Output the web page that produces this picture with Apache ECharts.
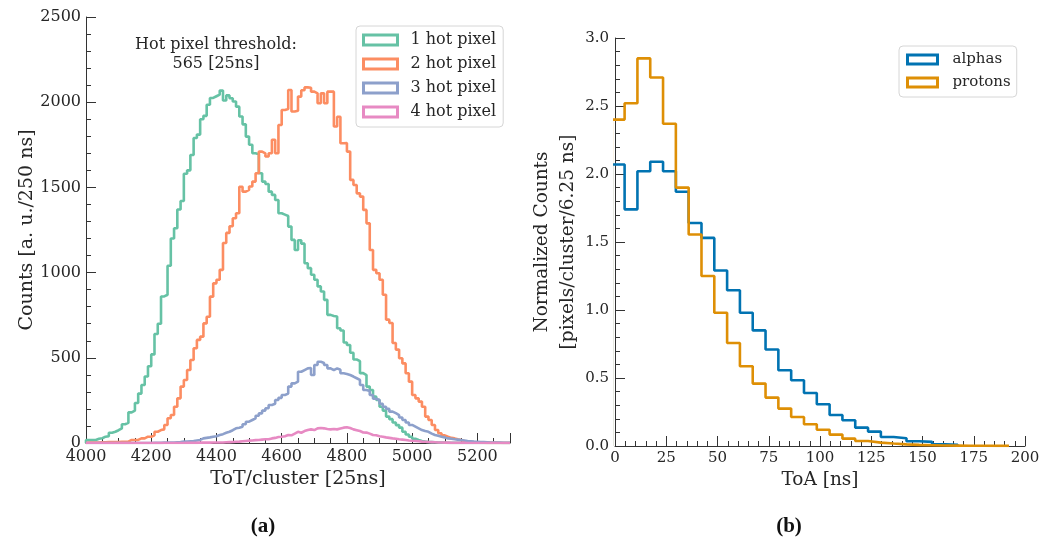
<!DOCTYPE html>
<html>
<head>
<meta charset="utf-8">
<script src="https://cdn.jsdelivr.net/npm/echarts@6/dist/echarts.min.js"></script>
<style>
  html, body { margin: 0; padding: 0; background: #ffffff; }
  #chart { width: 1064px; height: 542px; }
</style>
</head>
<body>
<div id="chart"></div>
<script>
// ---------- Panel (a): ToT per cluster, bins of 10 x 25ns starting at 4000 ----------
const totBinStart = 4000;
const totBinWidth = 10;
const totTicks = [4000, 4200, 4400, 4600, 4800, 5000, 5200];
const seriesNamesA = ['1 hot pixel', '2 hot pixel', '3 hot pixel', '4 hot pixel'];

const hot1 = [
  18, 18, 18, 25, 28, 37, 40, 60, 66, 75,
  86, 110, 118, 180, 190, 235, 290, 340, 390, 450,
  520, 640, 700, 860, 870, 1040, 1200, 1260, 1370, 1420,
  1580, 1600, 1690, 1790, 1810, 1900, 1920, 1985, 2025, 2035,
  2045, 2068, 2010, 2040, 2023, 2004, 1974, 1916, 1870, 1798,
  1750, 1700, 1695, 1583, 1534, 1520, 1475, 1456, 1426, 1348,
  1340, 1332, 1270, 1192, 1133, 1190, 1170, 1055, 1026, 987,
  958, 919, 889, 840, 752, 745, 742, 673, 660, 590,
  575, 530, 490, 480, 410, 399, 331, 311, 272, 252,
  213, 190, 155, 140, 120, 105, 90, 66, 50, 37,
  25, 18, 12, 8, 6, 5, 4, 3, 2, 2,
  1, 1, 1, 1, 1, 0, 0, 0, 0, 0,
  0, 0, 0, 0, 0, 0, 0, 0, 0, 0
];
const hot2 = [
  3, 3, 3, 3, 4, 4, 5, 5, 6, 6,
  7, 7, 8, 18, 18, 18, 27, 27, 37, 37,
  45, 66, 76, 80, 106, 145, 164, 213, 262, 331,
  370, 428, 487, 556, 605, 624, 702, 741, 859, 937,
  958, 1016, 1174, 1233, 1272, 1319, 1348, 1504, 1475, 1485,
  1505, 1534, 1583, 1710, 1700, 1681, 1700, 1780, 1700, 1866,
  1954, 1960, 2072, 1945, 1950, 2033, 2070, 2087, 2085, 2062,
  2052, 1994, 2052, 1994, 2062, 2062, 1857, 1915, 1759, 1760,
  1710, 1544, 1514, 1465, 1446, 1368, 1289, 1133, 1016, 996,
  958, 870, 724, 704, 587, 548, 497, 467, 409, 360,
  282, 262, 243, 213, 155, 135, 106, 76, 57, 45,
  37, 30, 27, 22, 18, 12, 8, 6, 4, 3,
  2, 2, 1, 1, 1, 1, 0, 0, 0, 0
];
const hot3 = [
  0, 0, 0, 0, 0, 0, 0, 0, 0, 0,
  0, 0, 0, 0, 0, 0, 0, 0, 0, 0,
  1, 1, 1, 2, 2, 2, 3, 4, 5, 8,
  8, 10, 12, 15, 18, 27, 30, 33, 37, 40,
  47, 52, 60, 66, 75, 86, 90, 96, 110, 125,
  135, 145, 160, 174, 190, 204, 223, 230, 252, 265,
  282, 290, 331, 350, 360, 418, 428, 438, 440, 399,
  458, 477, 470, 458, 438, 428, 438, 430, 409, 405,
  399, 390, 380, 370, 340, 311, 305, 282, 260, 252,
  230, 213, 200, 184, 175, 164, 150, 135, 120, 106,
  96, 86, 76, 70, 66, 55, 47, 42, 37, 33,
  27, 25, 22, 20, 18, 15, 12, 10, 8, 7,
  6, 5, 4, 3, 3, 2, 2, 1, 1, 1
];
const hot4 = [
  0, 0, 0, 0, 0, 0, 0, 0, 0, 0,
  0, 0, 0, 0, 0, 0, 0, 0, 0, 0,
  0, 0, 0, 0, 0, 0, 0, 0, 0, 0,
  1, 1, 1, 1, 2, 2, 2, 2, 3, 3,
  3, 3, 4, 5, 6, 7, 8, 10, 12, 14,
  15, 17, 18, 20, 22, 22, 27, 30, 35, 37,
  40, 47, 45, 55, 66, 60, 70, 76, 80, 76,
  86, 88, 86, 82, 80, 82, 80, 85, 90, 92,
  88, 80, 75, 70, 62, 61, 55, 47, 45, 40,
  37, 33, 30, 27, 25, 22, 20, 18, 15, 13,
  12, 10, 8, 7, 6, 5, 4, 3, 3, 2,
  2, 1, 1, 1, 1, 1, 0, 0, 0, 0,
  0, 0, 0, 0, 0, 0, 0, 0, 0, 0
];

// ---------- Panel (b): ToA, bins of 6.25 ns ----------
const toaBinStart = -1.5625;
const toaBinWidth = 6.25;
const seriesNamesB = ['alphas', 'protons'];
const alphas = [
  2.07, 1.74, 2.02, 2.09, 2.02, 1.87, 1.64, 1.53, 1.29, 1.145,
  0.98, 0.85, 0.71, 0.557, 0.483, 0.39, 0.307, 0.228, 0.189, 0.135,
  0.106, 0.066, 0.057, 0.035, 0.03, 0.012, 0.008
];
const protons = [
  2.40, 2.52, 2.85, 2.71, 2.37, 1.90, 1.555, 1.25, 0.98, 0.757,
  0.586, 0.459, 0.356, 0.275, 0.213, 0.16, 0.12, 0.084, 0.054, 0.037,
  0.025, 0.018, 0.012, 0.008, 0.006, 0.004, 0.003, 0.002, 0.002, 0.001,
  0.001
];

const colorsA = ['#66c2a5', '#fc8d62', '#8da0cb', '#e78ac3'];
const colorsB = ['#0173b2', '#de8f05'];
const FONT = 'DejaVu Serif';
const TXT = '#262626';
const AX = '#333';

function stepPoints(start, width, vals) {
  const pts = [[start, 0]];
  for (let i = 0; i < vals.length; i++) pts.push([start + i * width, vals[i]]);
  const endX = start + vals.length * width;
  pts.push([endX, vals[vals.length - 1]]);
  pts.push([endX, 0]);
  return pts;
}

function histSeries(name, data, color, xi, yi) {
  return {
    name: name, type: 'line', step: 'end', xAxisIndex: xi, yAxisIndex: yi,
    data: data, showSymbol: false, symbol: 'none', clip: true, silent: true,
    lineStyle: { color: color, width: 2.6 }, itemStyle: { color: color },
    animation: false
  };
}

// Inward y ticks: thin strip grids at the left edge of each panel whose split lines act as ticks
const tickStrips = [
  { left: 86, top: 17, height: 426, len: 10, max: 2500, step: 500 },
  { left: 86, top: 17, height: 426, len: 5, max: 2500, step: 100 },
  { left: 615, top: 38, height: 408, len: 10, max: 3, step: 0.5 },
  { left: 615, top: 38, height: 408, len: 5, max: 3, step: 0.1 }
];

const chart = echarts.init(document.getElementById('chart'), null, { renderer: 'canvas' });
const labelStyle = (size) => ({ fontFamily: FONT, fontSize: size, color: TXT });
const tk = () => ({ color: AX, width: 1 });

const grids = [
  { left: 86, top: 17, width: 424, height: 426 },
  { left: 615, top: 38, width: 410, height: 408 }
];
const xAxes = [
  {
    gridIndex: 0, type: 'value', min: 4000, max: 5300, interval: 200,
    axisLine: { show: true, lineStyle: { color: AX, width: 1 } },
    axisTick: { show: true, inside: true, length: 10, lineStyle: tk() },
    axisLabel: Object.assign({ margin: 6, formatter: (v) => (totTicks.indexOf(v) >= 0 ? String(v) : '') }, labelStyle(16)),
    splitLine: { show: false },
    name: 'ToT/cluster [25ns]', nameLocation: 'middle', nameGap: 25,
    nameTextStyle: labelStyle(19)
  },
  {
    gridIndex: 0, type: 'value', min: 4000, max: 5300, interval: 50, position: 'bottom',
    axisLine: { show: false },
    axisTick: { show: true, inside: true, length: 5, lineStyle: tk() },
    axisLabel: { show: false }, splitLine: { show: false }
  },
  {
    gridIndex: 1, type: 'value', min: 0, max: 200, interval: 25,
    axisLine: { show: true, lineStyle: { color: AX, width: 1 } },
    axisTick: { show: true, inside: true, length: 10, lineStyle: tk() },
    minorTick: { show: true, splitNumber: 5, length: 5, lineStyle: tk() },
    axisLabel: Object.assign({ margin: 5 }, labelStyle(15)),
    splitLine: { show: false }, minorSplitLine: { show: false },
    name: 'ToA [ns]', nameLocation: 'middle', nameGap: 23,
    nameTextStyle: labelStyle(18.5)
  }
];
const yAxes = [
  {
    gridIndex: 0, type: 'value', min: 0, max: 2500, interval: 500, position: 'left',
    axisLine: { show: true, lineStyle: { color: AX, width: 1 } },
    axisTick: { show: false },
    axisLabel: Object.assign({ margin: 5, formatter: (v) => String(v) }, labelStyle(16)),
    splitLine: { show: false },
    name: 'Counts [a. u./250 ns]', nameLocation: 'middle', nameGap: 48,
    nameTextStyle: labelStyle(19)
  },
  {
    gridIndex: 1, type: 'value', min: 0, max: 3, interval: 0.5, position: 'left',
    axisLine: { show: true, lineStyle: { color: AX, width: 1 } },
    axisTick: { show: false },
    axisLabel: Object.assign({ margin: 6, formatter: (v) => v.toFixed(1) }, labelStyle(15)),
    splitLine: { show: false },
    name: 'Normalized Counts\n[pixels/cluster/6.25 ns]', nameLocation: 'middle', nameGap: 27,
    nameTextStyle: Object.assign({ lineHeight: 26 }, labelStyle(18.5))
  }
];
tickStrips.forEach((s) => {
  const gi = grids.length;
  grids.push({ left: s.left, top: s.top, width: s.len, height: s.height });
  xAxes.push({ gridIndex: gi, type: 'value', min: 0, max: 1, show: false });
  yAxes.push({
    gridIndex: gi, type: 'value', min: 0, max: s.max, interval: s.step,
    axisLine: { show: false }, axisTick: { show: false }, axisLabel: { show: false },
    splitLine: { show: true, lineStyle: { color: AX, width: 1, type: 'solid' } }
  });
});

const option = {
  backgroundColor: '#ffffff',
  animation: false,
  grid: grids,
  xAxis: xAxes,
  yAxis: yAxes,
  legend: [
    {
      left: 356, top: 26, orient: 'vertical', selectedMode: false,
      padding: [6, 7, 7, 6], itemGap: 8, itemWidth: 34, itemHeight: 10,
      backgroundColor: 'rgba(255,255,255,0.85)', borderColor: '#d6d6d6', borderWidth: 1, borderRadius: 4,
      textStyle: { fontFamily: FONT, fontSize: 16, color: TXT, lineHeight: 16, padding: [0, 0, 0, 8] },
      data: seriesNamesA.map((n, i) => ({
        name: n, icon: 'rect',
        itemStyle: { color: 'rgba(0,0,0,0)', borderColor: colorsA[i], borderWidth: 3 }
      }))
    },
    {
      left: 899, top: 46, orient: 'vertical', selectedMode: false,
      padding: [6, 6, 7, 7], itemGap: 8, itemWidth: 30, itemHeight: 9,
      backgroundColor: 'rgba(255,255,255,0.85)', borderColor: '#d6d6d6', borderWidth: 1, borderRadius: 4,
      textStyle: { fontFamily: FONT, fontSize: 15, color: TXT, lineHeight: 15, padding: [0, 0, 0, 10] },
      data: seriesNamesB.map((n, i) => ({
        name: n, icon: 'rect',
        itemStyle: { color: 'rgba(0,0,0,0)', borderColor: colorsB[i], borderWidth: 3 }
      }))
    }
  ],
  graphic: [
    { type: 'text', x: 216, y: 45, style: { text: 'Hot pixel threshold:', align: 'center', verticalAlign: 'middle', font: '16px "DejaVu Serif"', fill: TXT } },
    { type: 'text', x: 216, y: 64, style: { text: '565 [25ns]', align: 'center', verticalAlign: 'middle', font: '16px "DejaVu Serif"', fill: TXT } },
    { type: 'text', x: 263, y: 527, style: { text: '(a)', align: 'center', verticalAlign: 'middle', font: 'bold 21px "Liberation Serif"', fill: '#111' } },
    { type: 'text', x: 789, y: 527, style: { text: '(b)', align: 'center', verticalAlign: 'middle', font: 'bold 21px "Liberation Serif"', fill: '#111' } }
  ],
  series: [
    histSeries(seriesNamesA[0], stepPoints(totBinStart, totBinWidth, hot1), colorsA[0], 0, 0),
    histSeries(seriesNamesA[1], stepPoints(totBinStart, totBinWidth, hot2), colorsA[1], 0, 0),
    histSeries(seriesNamesA[2], stepPoints(totBinStart, totBinWidth, hot3), colorsA[2], 0, 0),
    histSeries(seriesNamesA[3], stepPoints(totBinStart, totBinWidth, hot4), colorsA[3], 0, 0),
    histSeries(seriesNamesB[0], stepPoints(toaBinStart, toaBinWidth, alphas), colorsB[0], 2, 1),
    histSeries(seriesNamesB[1], stepPoints(toaBinStart, toaBinWidth, protons), colorsB[1], 2, 1)
  ]
};

chart.setOption(option);
</script>
</body>
</html>
